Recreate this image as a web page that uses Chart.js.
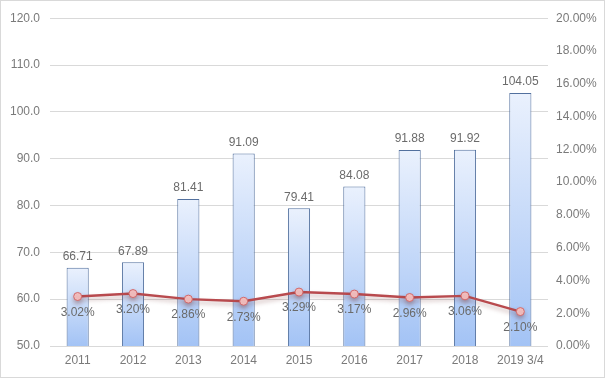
<!DOCTYPE html>
<html><head><meta charset="utf-8">
<script src="https://cdn.jsdelivr.net/npm/chart.js@4/dist/chart.umd.min.js"></script>
<style>
html,body{margin:0;padding:0;background:#fff;}
#wrap{position:absolute;left:0;top:0;width:603px;height:376px;border:1px solid #d9d9d9;}
canvas{display:block;}
</style></head><body>
<div id="wrap"><canvas id="c" width="603" height="376"></canvas></div>
<script>
const categories = ["2011","2012","2013","2014","2015","2016","2017","2018","2019 3/4"];
const barValues = [66.71,67.89,81.41,91.09,79.41,84.08,91.88,91.92,104.05];
const rateValues = [3.02,3.20,2.86,2.73,3.29,3.17,2.96,3.06,2.10];
const leftTicks = [50,60,70,80,90,100,110,120];
const rightTicks = [0,2,4,6,8,10,12,14,16,18,20];

const FONT = "'Liberation Sans', Arial, sans-serif";
const GRAY = '#7a7a7a';

function barGradient(ctx){
  const chart = ctx.chart;
  const area = chart.chartArea;
  if(!area || ctx.type !== 'data') return '#c8dbf8';
  const ys = chart.scales.y;
  const top = ys.getPixelForValue(ctx.raw);
  const bottom = area.bottom;
  const g = chart.ctx.createLinearGradient(0, top, 0, bottom);
  g.addColorStop(0, '#eaf1fd');
  g.addColorStop(1, '#a3c3f5');
  return g;
}

const labelPlugin = {
  id: 'labels',
  afterDatasetsDraw(chart){
    const ctx = chart.ctx;
    ctx.save();
    ctx.font = '12px ' + FONT;
    ctx.fillStyle = '#6b6b6b';
    ctx.textAlign = 'center';
    ctx.textBaseline = 'middle';
    const m0 = chart.getDatasetMeta(0);
    m0.data.forEach((el, i) => {
      ctx.fillText(barValues[i].toFixed(2), el.x, el.y - 11);
    });
    const m1 = chart.getDatasetMeta(1);
    m1.data.forEach((el, i) => {
      ctx.fillText(rateValues[i].toFixed(2) + '%', el.x, el.y + 16);
    });
    ctx.restore();
  }
};

const shadowPlugin = {
  id: 'lineShadow',
  beforeDatasetDraw(chart, args){
    if(args.index === 1){
      chart.ctx.save();
      chart.ctx.shadowColor = 'rgba(120,60,60,0.35)';
      chart.ctx.shadowBlur = 4;
      chart.ctx.shadowOffsetY = 3;
    }
  },
  afterDatasetDraw(chart, args){
    if(args.index === 1) chart.ctx.restore();
  }
};

new Chart(document.getElementById('c'), {
  type: 'bar',
  data: {
    labels: categories,
    datasets: [
      {
        type: 'bar',
        data: barValues,
        yAxisID: 'y',
        backgroundColor: barGradient,
        borderColor: '#52709e',
        borderWidth: 1,
        barPercentage: 0.8,
        categoryPercentage: 0.5,
        order: 2
      },
      {
        type: 'line',
        data: rateValues,
        yAxisID: 'y2',
        borderColor: '#b84a4e',
        borderWidth: 2.4,
        pointRadius: 4,
        pointBackgroundColor: '#f7c3c3',
        pointBorderColor: '#d2696b',
        pointBorderWidth: 1,
        tension: 0,
        order: 1
      }
    ]
  },
  options: {
    responsive: false,
    animation: false,
    devicePixelRatio: 1,
    layout: { padding: { top: 4, left: 0, right: 0, bottom: 0 } },
    plugins: { legend: { display: false }, tooltip: { enabled: false } },
    scales: {
      x: {
        grid: { display: false, drawTicks: false },
        border: { display: false },
        ticks: { color: GRAY, font: { family: FONT, size: 12 }, padding: 7, maxRotation: 0 },
        afterFit(s){ s.height = 31; }
      },
      y: {
        position: 'left',
        min: 50, max: 120,
        afterBuildTicks(s){ s.ticks = leftTicks.map(v => ({value: v})); },
        ticks: { color: GRAY, font: { family: FONT, size: 12 }, padding: 10,
                 callback: v => Number(v).toFixed(1) },
        grid: { color: '#d9d9d9', lineWidth: 1, drawTicks: false },
        border: { display: false },
        afterFit(s){ s.width = 49; }
      },
      y2: {
        position: 'right',
        min: 0, max: 20,
        afterBuildTicks(s){ s.ticks = rightTicks.map(v => ({value: v})); },
        ticks: { color: GRAY, font: { family: FONT, size: 12 }, padding: 8,
                 callback: v => Number(v).toFixed(2) + '%' },
        grid: { drawOnChartArea: false, drawTicks: false },
        border: { display: false },
        afterFit(s){ s.width = 56; }
      }
    }
  },
  plugins: [labelPlugin, shadowPlugin]
});
</script>
</body></html>
